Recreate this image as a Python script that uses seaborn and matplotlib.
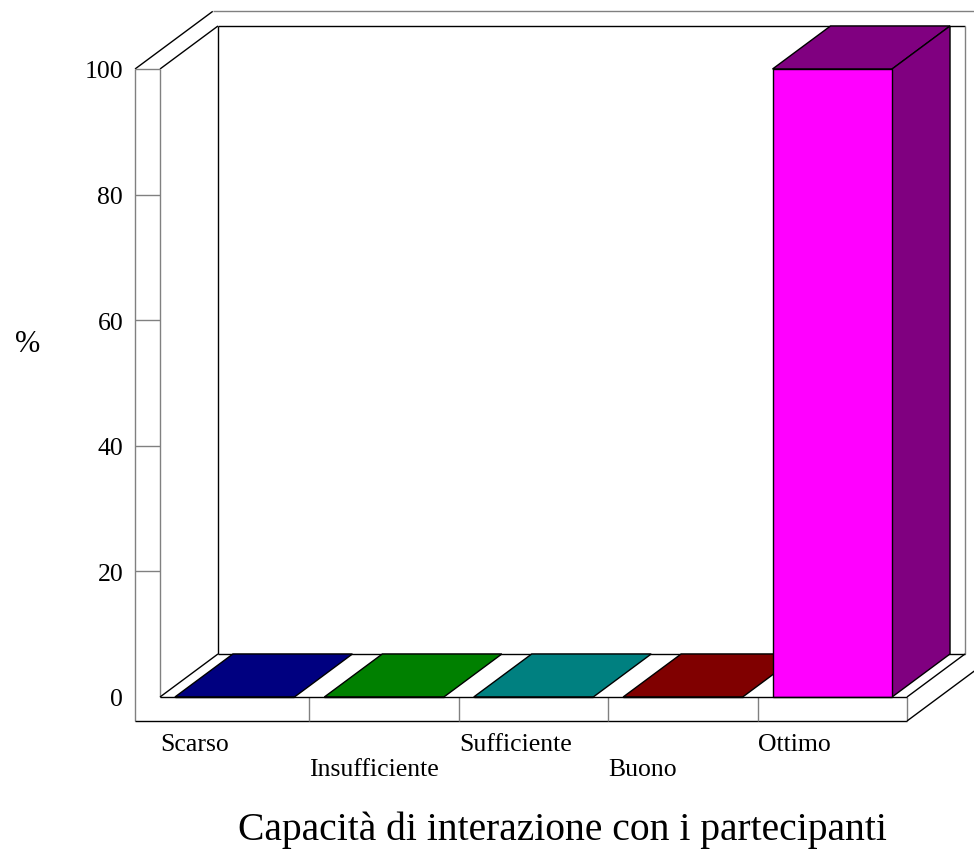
import matplotlib
matplotlib.use('agg')
import matplotlib.pyplot as plt
from matplotlib.patches import Polygon
import seaborn as sb

# data
categories = ["Scarso", "Insufficiente", "Sufficiente", "Buono", "Ottimo"]
values = [0, 0, 0, 0, 100]
yticks = [0, 20, 40, 60, 80, 100]
frontColors = ["#0000FF", "#00FF00", "#00FFFF", "#FF0000", "#FF00FF"]
darkColors = ["#000080", "#008000", "#008080", "#800000", "#800080"]
xTitle = "Capacità di interazione con i partecipanti"
yTitle = "%"

# fake 3D geometry (data units)
DX = 0.388      # depth shift along x
DY = 6.85       # depth shift along y
WALL = 0.167    # left wall thickness
FLOOR = 3.82    # floor thickness
OUTER = 1.34    # depth of outer wall edge
GRAY = "#808080"


def proj(x, y, t):
    return (x + t * DX, y + t * DY)


def line(ax, p0, p1, color="black", z=2):
    ax.plot([p0[0], p1[0]], [p0[1], p1[1]], color=color, lw=1, zorder=z,
            clip_on=False, solid_capstyle='butt')


sb.set_style("white")
plt.rcParams['font.family'] = ['Liberation Serif', 'DejaVu Serif']
plt.rcParams['text.color'] = 'black'
plt.rcParams['ytick.color'] = 'black'

fig = plt.figure(figsize=(9.74, 8.53), dpi=100)
ax = fig.add_axes([160 / 974, (853 - 698) / 853, 747 / 974, 628 / 853])

sb.barplot(x=categories, y=values, hue=categories, palette=frontColors,
           saturation=1, width=0.8, edgecolor="black", linewidth=1,
           legend=False, ax=ax, zorder=3)

n = len(categories)
x0 = -0.5
x1 = n - 0.5
top = yticks[-1]
ax.set_xlim(x0, x1)
ax.set_ylim(0, top)

# back wall and left wall
xl = x0 - WALL
line(ax, proj(x0, top, 1), proj(x1, top, 1))
line(ax, proj(x0, top, 1), proj(x0, 0, 1))
line(ax, proj(x1, top, 1), proj(x1, 0, 1), color=GRAY)
line(ax, proj(xl, top, 0), proj(xl, top, OUTER))
line(ax, proj(x0, top, 0), proj(x0, top, 1))
line(ax, proj(xl, top, OUTER), proj(x1 + 1, top, OUTER), color=GRAY)
line(ax, (xl, top), (xl, -FLOOR), color=GRAY)
line(ax, (x0, top), (x0, 0), color=GRAY)
line(ax, (xl, top), (x0, top), color=GRAY)
for t in yticks[1:-1]:
    line(ax, (xl, t), (x0, t), color=GRAY)

# floor
line(ax, (x0, 0), (x1, 0), z=4)
line(ax, (xl, -FLOOR), (x1, -FLOOR))
line(ax, proj(x0, 0, 0), proj(x0, 0, 1))
line(ax, proj(x0, 0, 1), proj(x1, 0, 1))
line(ax, proj(x1, 0, 0), proj(x1, 0, 1))
line(ax, (x1, 0), (x1, -FLOOR), color=GRAY)
line(ax, proj(x1, -FLOOR, 0), proj(x1, -FLOOR, OUTER + 0.5))
for i in range(1, n):
    line(ax, (i - 0.5, 0), (i - 0.5, -FLOOR), color=GRAY)

# top and side faces of the bars (behind the front faces)
bars = sorted(ax.patches, key=lambda p: p.get_x())
for i, p in enumerate(bars):
    a = p.get_x()
    b = a + p.get_width()
    h = p.get_height()
    topFace = [proj(a, h, 0), proj(b, h, 0), proj(b, h, 1), proj(a, h, 1)]
    ax.add_patch(Polygon(topFace, closed=True, facecolor=darkColors[i],
                         edgecolor="black", lw=1, zorder=2.5, clip_on=False))
    if h > 0:
        side = [proj(b, 0, 0), proj(b, h, 0), proj(b, h, 1), proj(b, 0, 1)]
        ax.add_patch(Polygon(side, closed=True, facecolor=darkColors[i],
                             edgecolor="black", lw=1, zorder=2.5, clip_on=False))
    p.set_clip_on(False)

# axes text
for s in ax.spines.values():
    s.set_visible(False)
ax.set_yticks(yticks)
ax.set_yticklabels([str(v) for v in yticks])
ax.tick_params(axis='y', length=0, pad=26.5, labelsize=18.5, labelcolor='black')
ax.set_xticks([])
ax.set_xlabel("")
ax.set_ylabel("")

for i, c in enumerate(categories):
    yy = -7.5 if i % 2 == 0 else -11.5
    ax.text(i - 0.5, yy, c, ha='left', va='center', fontsize=18.5)

fig.text(562 / 974, 1 - 830 / 853, xTitle, ha='center', va='center', fontsize=28.5)
fig.text(28 / 974, 1 - 345 / 853, yTitle, ha='center', va='center', fontsize=22)

fig.savefig("out.png", dpi=100)
plt.close()
